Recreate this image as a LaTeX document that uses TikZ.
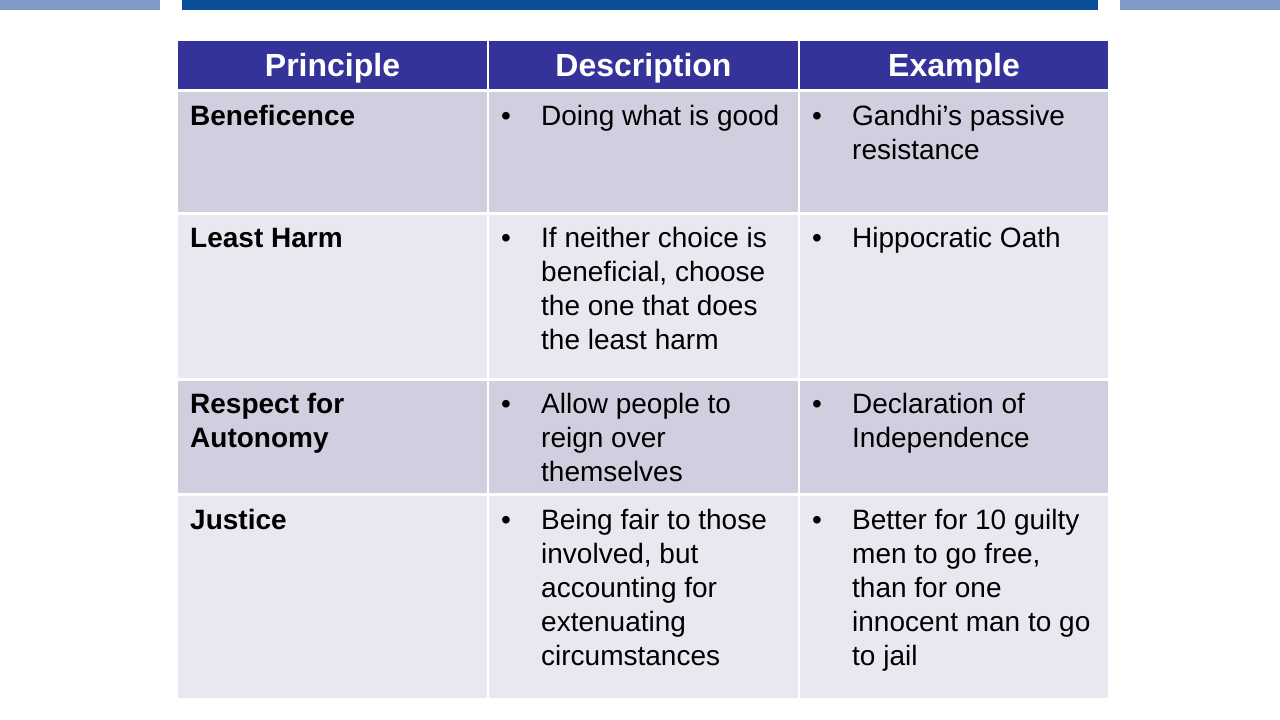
\documentclass[tikz,border=0pt]{standalone}
\usepackage{fontspec}
\setmainfont{Liberation Sans}
\begin{document}
\begin{tikzpicture}[x=1pt,y=-1pt,
  dark/.style={fill=rowdark,draw=none},
  light/.style={fill=rowlight,draw=none},
  hdr/.style={fill=hdrblue,draw=none},
  txt/.style={anchor=north west,inner sep=0pt,align=left,font=\fontsize{28}{34}\selectfont},
  htxt/.style={font=\fontsize{32}{36}\selectfont\bfseries,text=white},
  bul/.style={anchor=north west,inner sep=0pt,font=\fontsize{28}{34}\selectfont}]
\definecolor{rowdark}{HTML}{CFCFE0}
\definecolor{rowlight}{HTML}{E8E8F1}
\definecolor{hdrblue}{HTML}{33339A}
\definecolor{barblue}{HTML}{0B4F9A}
\definecolor{barlight}{HTML}{7F9CC8}
\useasboundingbox (0,0) rectangle (1280,720);
\fill[white] (0,0) rectangle (1280,720);
\fill[barlight] (0,0) rectangle (160,10);
\fill[barblue] (182,0) rectangle (1098,10);
\fill[barlight] (1120,0) rectangle (1280,10);
% header
\path[hdr] (178,41) rectangle (487,89);
\path[hdr] (489,41) rectangle (798,89);
\path[hdr] (800,41) rectangle (1108,89);
\node[htxt] (h1) at (332.5,68) {Principle};
\node[htxt] (h2) at (643.5,68) {Description};
\node[htxt] (h3) at (954,68) {Example};
% rows
\foreach \t/\b/\s in {92/212/dark,215/378/light,381/493/dark,496/698/light}{
  \path[\s] (178,\t) rectangle (487,\b);
  \path[\s] (489,\t) rectangle (798,\b);
  \path[\s] (800,\t) rectangle (1108,\b);
}
% row 1
\node[txt] (p1) at (190,101.2) {\strut\bfseries Beneficence};
\node[bul] (b1a) at (501,101.2) {\strut•};
\node[txt] (d1) at (541,101.2) {\strut Doing what is good};
\node[bul] (b1b) at (812,101.2) {\strut•};
\node[txt] (e1) at (852,101.2) {\strut Gandhi’s passive\\resistance};
% row 2
\node[txt] (p2) at (190,223.2) {\strut\bfseries Least Harm};
\node[bul] (b2a) at (501,223.2) {\strut•};
\node[txt] (d2) at (541,223.2) {\strut If neither choice is\\beneficial, choose\\the one that does\\the least harm};
\node[bul] (b2b) at (812,223.2) {\strut•};
\node[txt] (e2) at (852,223.2) {\strut Hippocratic Oath};
% row 3
\node[txt] (p3) at (190,389.2) {\strut\bfseries Respect for\\\bfseries Autonomy};
\node[bul] (b3a) at (501,389.2) {\strut•};
\node[txt] (d3) at (541,389.2) {\strut Allow people to\\reign over\\themselves};
\node[bul] (b3b) at (812,389.2) {\strut•};
\node[txt] (e3) at (852,389.2) {\strut Declaration of\\Independence};
% row 4
\node[txt] (p4) at (190,505.2) {\strut\bfseries Justice};
\node[bul] (b4a) at (501,505.2) {\strut•};
\node[txt] (d4) at (541,505.2) {\strut Being fair to those\\involved, but\\accounting for\\extenuating\\circumstances};
\node[bul] (b4b) at (812,505.2) {\strut•};
\node[txt] (e4) at (852,505.2) {\strut Better for 10 guilty\\men to go free,\\than for one\\innocent man to go\\to jail};
\end{tikzpicture}
\end{document}
